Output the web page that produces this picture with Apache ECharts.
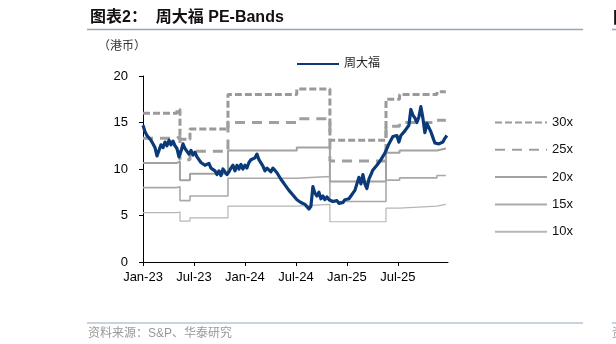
<!DOCTYPE html>
<html><head><meta charset="utf-8">
<script src="https://cdn.jsdelivr.net/npm/echarts@6/dist/echarts.min.js"></script>
<style>html,body{margin:0;padding:0;background:#fff}#c{width:616px;height:344px}</style>
</head><body><div id="c"></div>
<script>
// x axis: months since Jan-2023
const xTickMonths = [0, 6, 12, 18, 24, 30];
const xTickLabels = ['Jan-23', 'Jul-23', 'Jan-24', 'Jul-24', 'Jan-25', 'Jul-25'];
const yTickValues = [0, 5, 10, 15, 20];

// 周大福 share price (HKD), roughly weekly observations
const priceStep = 0.2353; // months between observations
const priceValues = [
  14.7, 14.0, 13.6, 13.8, 13.1, 12.9, 12.3, 11.4, 11.6, 12.6,
  12.3, 12.9, 12.5, 13.1, 12.6, 13.0, 12.5, 12.2, 11.3, 11.9,
  12.7, 12.2, 12.1, 11.6, 12.0, 11.5, 11.8, 11.3, 11.2, 10.7,
  10.9, 10.4, 10.2, 10.6, 10.1, 10.3, 9.8, 9.4, 9.8, 9.3,
  10.0, 9.8, 9.4, 9.7, 10.1, 10.4, 9.8, 10.4, 10.0, 10.5,
  10.0, 10.4, 10.1, 10.7, 11.0, 10.8, 11.2, 11.6, 11.0, 11.1,
  10.3, 9.8, 10.1, 10.3, 9.7, 10.1, 9.9, 9.6, 9.4, 8.9,
  8.6, 8.3, 8.1, 7.7, 7.6, 7.2, 7.1, 6.7, 6.8, 6.4,
  6.6, 6.2, 6.1, 5.7, 6.0, 8.1, 7.4, 7.1, 7.5, 6.8,
  7.1, 6.7, 7.0, 6.7, 6.8, 6.5, 6.4, 6.6, 6.3, 6.5,
  6.4, 6.7, 6.9, 6.8, 7.1, 7.4, 7.7, 7.6, 9.1, 8.4,
  9.4, 8.4, 7.9, 8.9, 9.4, 9.9, 9.8, 10.4, 10.3, 11.0,
  11.2, 11.7, 11.9, 12.7, 12.8, 13.5, 13.3, 13.6, 12.9, 13.6,
  13.5, 14.1, 14.2, 14.7, 16.4, 15.8, 15.5, 15.0, 15.6, 16.7,
  15.5, 13.9, 14.9, 15.0, 14.0, 13.4, 12.8, 13.0, 12.7, 12.9,
  12.9, 13.3, 13.6
];

// PE band step changes (months since Jan-2023) and band levels per segment
const bandBreaks = [0, 4.0, 4.35, 5.53, 10.0, 18.1, 22.0, 28.6, 30.2, 34.6, 35.65];
const band30 = [16.0, 16.4, 13.2, 14.3, 18.0, 18.6, 13.1, 17.5, 18.0, 18.3];
const band25 = [13.3, 13.5, 11.0, 11.9, 15.0, 15.4, 10.85, 14.6, 15.0, 15.25];
const band20 = [10.65, 10.8, 8.8, 9.5, 12.0, 12.3, 8.65, 11.75, 12.0, 12.2];
const band15 = [8.0, 8.1, 6.6, 7.1, 9.0, 9.2, 6.5, 8.8, 9.05, 9.3];
const band10 = [5.3, 5.4, 4.4, 4.75, 6.0, 6.2, 4.33, 5.8, 6.0, 6.2];

const FONT = '"Liberation Sans", Arial, "Noto Sans CJK SC", sans-serif';

function bandData(vals) {
  return bandBreaks.map((b, i) => [b, vals[Math.min(i, vals.length - 1)]]);
}
function bandSeries(name, vals, color, width, type) {
  return {
    name: name, type: 'line', step: 'end', symbol: 'none', silent: true,
    data: bandData(vals),
    lineStyle: { color: color, width: width, type: type },
    itemStyle: { color: color },
    z: 2
  };
}

const chart = echarts.init(document.getElementById('c'), null, { renderer: 'canvas' });
chart.setOption({
  animation: false,
  backgroundColor: '#fff',
  textStyle: { fontFamily: FONT },
  grid: { left: 143, right: 168, top: 76, bottom: 82, containLabel: false },
  xAxis: {
    type: 'value', min: 0, max: 35.9,
    axisLine: { lineStyle: { color: '#000', width: 1 } },
    axisTick: { show: true, length: 4, inside: false, lineStyle: { color: '#000' }, customValues: xTickMonths },
    axisLabel: {
      customValues: xTickMonths, margin: 9, fontSize: 13, color: '#000', fontFamily: FONT,
      formatter: v => { const i = xTickMonths.indexOf(Math.round(v)); return i >= 0 ? xTickLabels[i] : ''; }
    },
    splitLine: { show: false }
  },
  yAxis: {
    type: 'value', min: 0, max: 20, interval: 5,
    axisLine: { show: true, lineStyle: { color: '#000', width: 1 } },
    axisTick: { show: true, length: 4, lineStyle: { color: '#000' } },
    axisLabel: { margin: 15, fontSize: 13, color: '#000', fontFamily: FONT,
      formatter: v => yTickValues.indexOf(v) >= 0 ? String(v) : '' },
    splitLine: { show: false }
  },
  legend: [
    { data: ['周大福'], left: 291, top: 53, itemWidth: 42, itemHeight: 14,
      itemStyle: { opacity: 0 },
      textStyle: { fontSize: 12, color: '#222', fontFamily: FONT } },
    { data: ['30x', '25x', '20x', '15x', '10x'], orient: 'vertical', left: 489, top: 111,
      itemWidth: 52, itemHeight: 14, itemGap: 14.3,
      itemStyle: { opacity: 0 },
      textStyle: { fontSize: 13, color: '#111', fontFamily: FONT } }
  ],
  series: [
    bandSeries('30x', band30, '#9a9a9a', 3, [7, 3]),
    bandSeries('25x', band25, '#9f9f9f', 3, [10, 7]),
    bandSeries('20x', band20, '#a2a2a2', 2, 'solid'),
    bandSeries('15x', band15, '#a9a9a9', 1.6, 'solid'),
    bandSeries('10x', band10, '#b6b6b6', 1.2, 'solid'),
    {
      name: '周大福', type: 'line', symbol: 'none', silent: true,
      data: priceValues.map((v, i) => [i * priceStep, v]),
      lineStyle: { color: '#0b3a78', width: 3.2, join: 'round' },
      itemStyle: { color: '#0b3a78' },
      z: 5
    }
  ],
  graphic: [
    { type: 'text', left: 90, top: 10, style: { text: '图表2：  周大福 PE-Bands', fill: '#111', font: 'bold 16px ' + FONT } },
    { type: 'line', shape: { x1: 87, y1: 29.5, x2: 583, y2: 29.5 }, style: { stroke: '#97a5b9', lineWidth: 1.5 } },
    { type: 'line', shape: { x1: 612, y1: 29.5, x2: 616, y2: 29.5 }, style: { stroke: '#97a5b9', lineWidth: 1.5 } },
    { type: 'text', x: 613, y: 11, style: { text: '图表3', fill: '#111', font: 'bold 16px ' + FONT } },
    { type: 'text', x: 98, y: 41, style: { text: '（港币）', fill: '#333', font: '12px ' + FONT } },
    { type: 'line', shape: { x1: 87, y1: 323, x2: 583, y2: 323 }, style: { stroke: '#b7c4d4', lineWidth: 1.5 } },
    { type: 'line', shape: { x1: 612, y1: 323, x2: 616, y2: 323 }, style: { stroke: '#b7c4d4', lineWidth: 1.5 } },
    { type: 'text', x: 88, y: 328, style: { text: '资料来源：S&P、华泰研究', fill: '#999', font: '12px ' + FONT } },
    { type: 'text', x: 612, y: 328, style: { text: '资料', fill: '#999', font: '12px ' + FONT } }
  ]
});
</script>
</body></html>
